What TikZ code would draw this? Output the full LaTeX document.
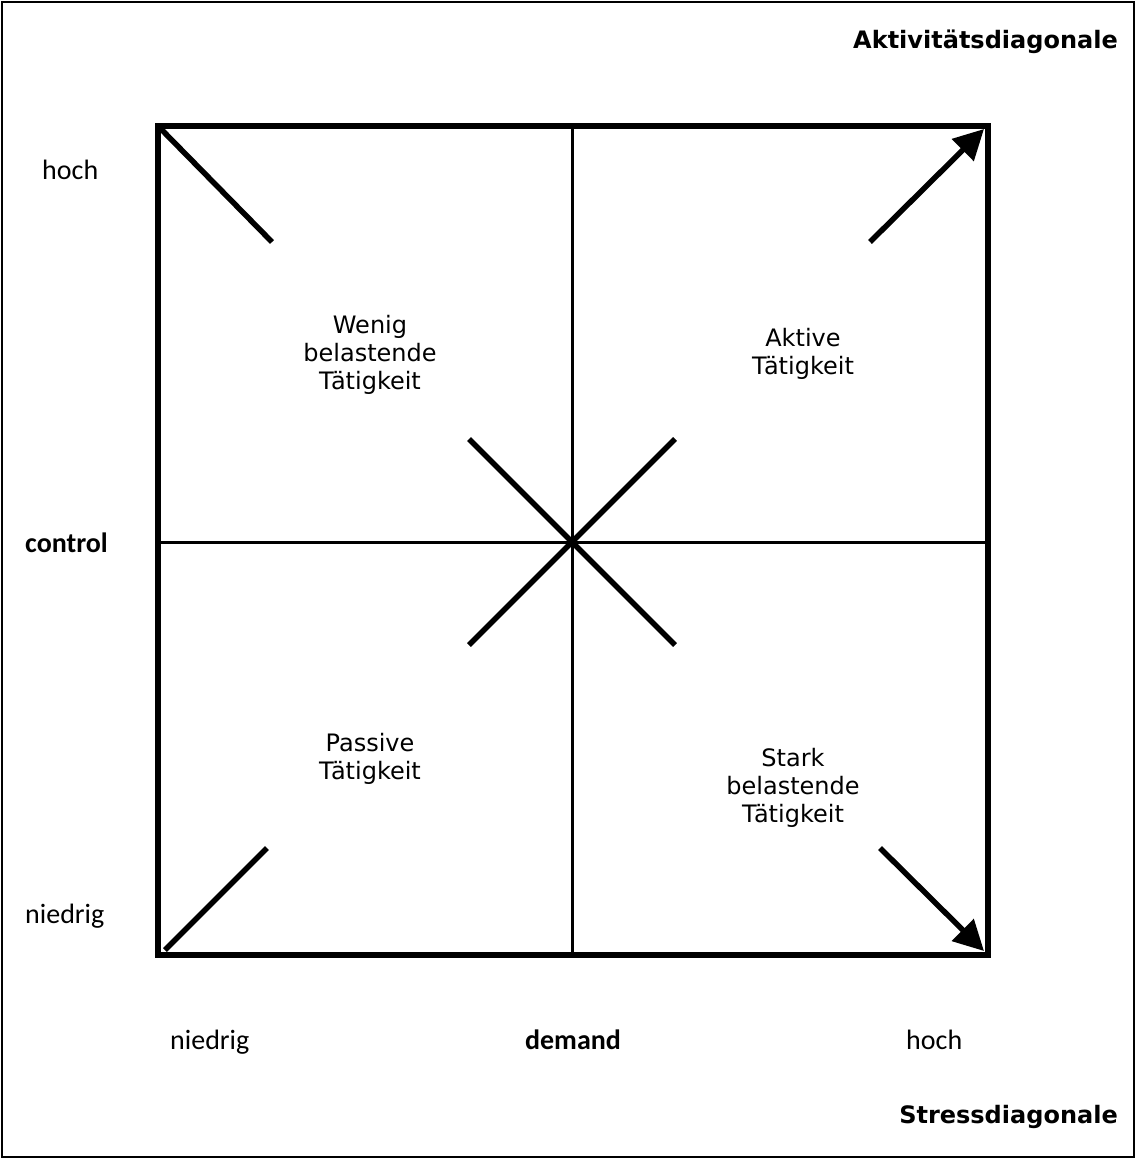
\documentclass[tikz,border=0pt]{standalone}
\usepackage{fontspec}
\setmainfont{DejaVu Sans}
\newfontfamily\calibrifont{Carlito}
\usetikzlibrary{arrows.meta,calc}
\tikzset{
  quadtext/.style={align=center, inner sep=0pt, font=\fontsize{24}{28}\selectfont},
  axistext/.style={inner sep=0pt, font=\calibrifont\fontsize{28}{34}\selectfont},
  axisbold/.style={axistext, font=\calibrifont\bfseries\fontsize{28}{34}\selectfont},
  diagtext/.style={anchor=east, inner sep=0pt, font=\bfseries\fontsize{24}{29}\selectfont},
  diagline/.style={line width=5.5pt},
  diagarrow/.style={diagline, -{Triangle[length=30pt,width=30pt]}}
}

\begin{document}
\begin{tikzpicture}[x=1pt, y=-1pt]
  \useasboundingbox (0,0) rectangle (1136,1159);
  \draw[line width=2.2pt] (2,2) rectangle (1134,1157);
  % corners and centre of the square
  \coordinate (nw) at (158,126);
  \coordinate (se) at (988,955);
  \coordinate (c) at (572,542);
  \draw[line width=3pt] (572,126) -- (572,955) (158,542) -- (988,542);
  \draw[line width=5.5pt] (nw) rectangle (se);
  % diagonals, interrupted by the quadrant texts
  \draw[diagline] (159,127) -- (272,242);
  \draw[diagline] (165,950) -- (267,848);
  \draw[diagline] ($(c)+(-103,-103)$) -- ($(c)+(103,103)$);
  \draw[diagline] ($(c)+(103,-103)$) -- ($(c)+(-103,103)$);
  \draw[diagarrow] (870,242) -- (984,129);
  \draw[diagarrow] (880,848) -- (984,951);
  % quadrants
  \node[quadtext] (wenig) at (370,355) {Wenig\\belastende\\Tätigkeit};
  \node[quadtext] (aktiv) at (803,354) {Aktive\\Tätigkeit};
  \node[quadtext] (passiv) at (370,759) {Passive\\Tätigkeit};
  \node[quadtext] (stark) at (793,788) {Stark\\belastende\\Tätigkeit};
  % axes
  \node[axistext, anchor=west] (yhoch) at (42,170) {hoch};
  \node[axisbold, anchor=west] (control) at (25,543) {control};
  \node[axistext, anchor=west] (yniedrig) at (25,916) {niedrig};
  \node[axistext, anchor=west] (xniedrig) at (170,1042) {niedrig};
  \node[axisbold] (demand) at (573,1040) {demand};
  \node[axistext, anchor=west] (xhoch) at (906,1040) {hoch};
  \node[diagtext] (aktdiag) at (1118,42) {Aktivitätsdiagonale};
  \node[diagtext] (stressdiag) at (1118,1117) {Stressdiagonale};
\end{tikzpicture}
\end{document}
